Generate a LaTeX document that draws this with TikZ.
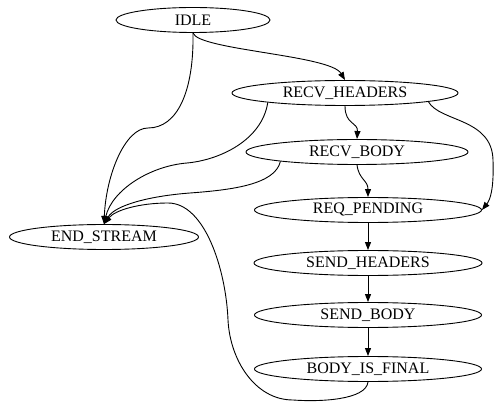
\documentclass[tikz,border=0pt]{standalone}
\usepackage{fontspec}
\setmainfont{Liberation Serif}
\usetikzlibrary{arrows.meta, shapes.geometric}

\begin{document}
\begin{tikzpicture}[x=1pt, y=-1pt, line width=0.9pt,
  state/.style={ellipse, draw, inner sep=0pt, minimum height=25pt,
    font=\fontsize{16}{18}\selectfont},
  trans/.style={-{Triangle[length=8pt,width=6pt]}}]
\useasboundingbox (0,0) rectangle (495,403);

% States
\node[state, minimum width=154pt] (idle) at (193,20) {IDLE};
\node[state, minimum width=226pt] (recvh) at (345,93) {RECV\_HEADERS};
\node[state, minimum width=222pt] (recvb) at (357,152) {RECV\_BODY};
\node[state, minimum width=227pt] (reqp) at (368,210) {REQ\_PENDING};
\node[state, minimum width=189pt] (endst) at (104,237) {END\_STREAM};
\node[state, minimum width=228pt] (sendh) at (368,263) {SEND\_HEADERS};
\node[state, minimum width=227pt] (sendb) at (368,315) {SEND\_BODY};
\node[state, minimum width=227pt] (final) at (368,369) {BODY\_IS\_FINAL};

% Transitions out of IDLE
\draw[trans] (idle.south) .. controls (198,50) and (330,55) .. (recvh.north);
\draw[trans] (idle.south) .. controls (194,90) and (178,128) .. (148,128)
  .. controls (125,128) and (106,175) .. (endst.north);

% Transitions out of RECV_HEADERS
\draw[trans] (recvh.south) .. controls (345,125) and (358,122) .. (recvb.north);
\draw[trans] (recvh.187) .. controls (262,140) and (220,160) .. (187,163)
  .. controls (150,166) and (112,190) .. (endst.north);
\draw[trans] (recvh.354) .. controls (440,122) and (492,118) .. (493,160)
  .. controls (494,190) and (490,200) .. (reqp.east);

% Transitions out of RECV_BODY
\draw[trans] (recvb.south) .. controls (359,180) and (368,180) .. (reqp.north);
\draw[trans] (recvb.187) .. controls (275,185) and (230,190) .. (190,193)
  .. controls (150,196) and (115,205) .. (endst.north);

% Sending side
\draw[trans] (reqp) -- (sendh);
\draw[trans] (sendh) -- (sendb);
\draw[trans] (sendb) -- (final);

% Back to END_STREAM
\draw[trans] (final.south) .. controls (366,400) and (320,402) .. (293,400)
  .. controls (255,400) and (230,360) .. (228,320)
  .. controls (226,270) and (205,203) .. (168,203)
  .. controls (140,203) and (115,210) .. (endst.north);
\end{tikzpicture}
\end{document}
